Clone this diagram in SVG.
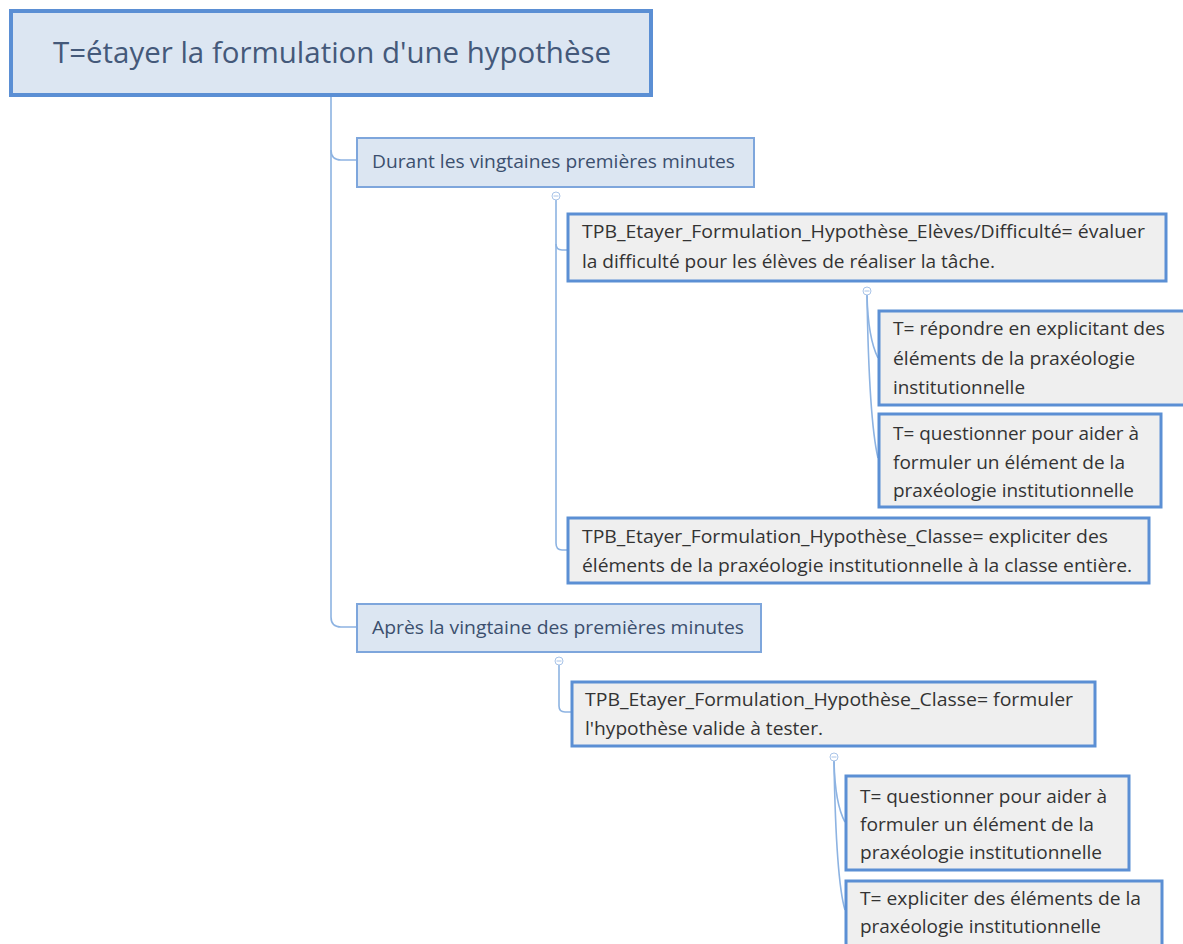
<svg xmlns="http://www.w3.org/2000/svg" width="1183" height="944" viewBox="0 0 1183 944">
<style>
text{font-family:"Open Sans","Noto Sans","Liberation Sans",sans-serif;}
.root{fill:#dce6f2;stroke:#5b8fd4;stroke-width:4;}
.mid{fill:#dce6f2;stroke:#7ea6dc;stroke-width:2;}
.leaf{fill:#efefef;stroke:#5b8fd4;stroke-width:3;}
.rt{font-size:29px;fill:#44597a;}
.mt{font-size:18.5px;fill:#3b4f6e;}
.lt{font-size:18.5px;fill:#333333;}
.con{fill:none;stroke:#8db3e2;stroke-width:1.6;}
.col{fill:#ffffff;stroke:#a9c4e8;stroke-width:1;}
.colm{stroke:#a9c4e8;stroke-width:1;}
</style>
<rect width="1183" height="944" fill="#ffffff"/>
<g id="connectors">
<path class="con" d="M331,96 V150 Q331,160 341,160 H357"/>
<path class="con" d="M331,150 V617 Q331,627 341,627 H357"/>
<path class="con" d="M556,200 V244 Q556,250 562,250 H568"/>
<path class="con" d="M556,244 V543 Q556,550 562,550 H568"/>
<path class="con" d="M867,295 Q868,338 878,358"/>
<path class="con" d="M867,295 Q869,420 878,458"/>
<path class="con" d="M559,665 V706 Q559,712 565,712 H572"/>
<path class="con" d="M834,761 Q835,804 845,822"/>
<path class="con" d="M834,761 Q836,880 845,910"/>
<circle class="col" cx="556" cy="196" r="4"/><path class="colm" d="M553.5,196 H558.5"/>
<circle class="col" cx="867" cy="291" r="4"/><path class="colm" d="M864.5,291 H869.5"/>
<circle class="col" cx="559" cy="661" r="4"/><path class="colm" d="M556.5,661 H561.5"/>
<circle class="col" cx="834" cy="757" r="4"/><path class="colm" d="M831.5,757 H836.5"/>
</g>
<g id="root">
<rect class="root" x="11" y="11" width="640" height="84"/>
<text class="rt" x="53" y="63" textLength="558" lengthAdjust="spacingAndGlyphs">T=étayer la formulation d'une hypothèse</text>
</g>
<g id="durant">
<rect class="mid" x="357" y="138" width="397" height="49"/>
<text class="mt" x="372" y="168" textLength="363" lengthAdjust="spacingAndGlyphs">Durant les vingtaines premières minutes</text>
</g>
<g id="tpb1">
<rect class="leaf" x="568" y="214" width="598" height="67"/>
<text class="lt" x="582" y="238" textLength="563" lengthAdjust="spacingAndGlyphs">TPB_Etayer_Formulation_Hypothèse_Elèves/Difficulté= évaluer</text>
<text class="lt" x="582" y="268" textLength="413" lengthAdjust="spacingAndGlyphs">la difficulté pour les élèves de réaliser la tâche.</text>
</g>
<g id="repondre">
<rect class="leaf" x="879" y="311" width="310" height="94"/>
<text class="lt" x="893" y="335" textLength="272" lengthAdjust="spacingAndGlyphs">T= répondre en explicitant des</text>
<text class="lt" x="893" y="365" textLength="242" lengthAdjust="spacingAndGlyphs">éléments de la praxéologie</text>
<text class="lt" x="893" y="394" textLength="132" lengthAdjust="spacingAndGlyphs">institutionnelle</text>
</g>
<g id="questionner1">
<rect class="leaf" x="879" y="414" width="282" height="93"/>
<text class="lt" x="893" y="440" textLength="246" lengthAdjust="spacingAndGlyphs">T= questionner pour aider à</text>
<text class="lt" x="893" y="469" textLength="232" lengthAdjust="spacingAndGlyphs">formuler un élément de la</text>
<text class="lt" x="893" y="497" textLength="241" lengthAdjust="spacingAndGlyphs">praxéologie institutionnelle</text>
</g>
<g id="classe1">
<rect class="leaf" x="568" y="518" width="581" height="65"/>
<text class="lt" x="582" y="543" textLength="526" lengthAdjust="spacingAndGlyphs">TPB_Etayer_Formulation_Hypothèse_Classe= expliciter des</text>
<text class="lt" x="582" y="572" textLength="550" lengthAdjust="spacingAndGlyphs">éléments de la praxéologie institutionnelle à la classe entière.</text>
</g>
<g id="apres">
<rect class="mid" x="357" y="604" width="404" height="48"/>
<text class="mt" x="372" y="634" textLength="372" lengthAdjust="spacingAndGlyphs">Après la vingtaine des premières minutes</text>
</g>
<g id="classe2">
<rect class="leaf" x="572" y="682" width="523" height="64"/>
<text class="lt" x="585" y="706" textLength="488" lengthAdjust="spacingAndGlyphs">TPB_Etayer_Formulation_Hypothèse_Classe= formuler</text>
<text class="lt" x="585" y="735" textLength="238" lengthAdjust="spacingAndGlyphs">l'hypothèse valide à tester.</text>
</g>
<g id="questionner2">
<rect class="leaf" x="846" y="776" width="283" height="94"/>
<text class="lt" x="860" y="803" textLength="247" lengthAdjust="spacingAndGlyphs">T= questionner pour aider à</text>
<text class="lt" x="860" y="831" textLength="234" lengthAdjust="spacingAndGlyphs">formuler un élément de la</text>
<text class="lt" x="860" y="859" textLength="242" lengthAdjust="spacingAndGlyphs">praxéologie institutionnelle</text>
</g>
<g id="expliciter">
<rect class="leaf" x="846" y="881" width="316" height="70"/>
<text class="lt" x="860" y="905" textLength="281" lengthAdjust="spacingAndGlyphs">T= expliciter des éléments de la</text>
<text class="lt" x="860" y="933" textLength="241" lengthAdjust="spacingAndGlyphs">praxéologie institutionnelle</text>
</g>
</svg>
